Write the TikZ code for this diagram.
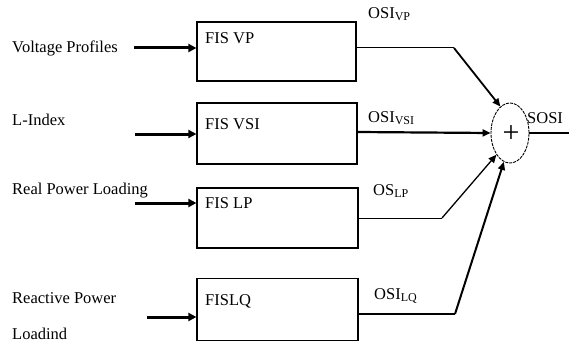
\documentclass[tikz,border=0pt]{standalone}
\usepackage{fontspec}
\setmainfont{Liberation Serif}
\usetikzlibrary{arrows.meta,shapes.geometric}
\begin{document}
\begin{tikzpicture}[x=1pt,y=-1pt,
  txt/.style={anchor=west,inner sep=0pt,font=\fontsize{16.5}{18}\selectfont},
  fisbox/.style={draw,line width=1.2pt,inner sep=0pt},
  inarr/.style={line width=3pt,-{Triangle[length=8pt,width=8pt]}},
  outarr/.style={-{Triangle[length=8pt,width=7pt]}}]
\useasboundingbox (0,0) rectangle (569,342);
% boxes
\node[fisbox,minimum width=159pt,minimum height=59pt] (b1) at (276.5,51.5) {};
\node[fisbox,minimum width=160pt,minimum height=61pt] (b2) at (277,133.5) {};
\node[fisbox,minimum width=161pt,minimum height=60pt] (b3) at (277.5,218) {};
\node[fisbox,minimum width=161pt,minimum height=62pt] (b4) at (277.5,309.5) {};
% box titles
\node[txt] (t1) at (205,38) {FIS VP};
\node[txt] (t2) at (205,124) {FIS VSI};
\node[txt] (t3) at (205,203) {FIS LP};
\node[txt] (t4) at (205,301) {FISLQ};
% input labels
\node[txt] (l1) at (12,48) {Voltage Profiles};
\node[txt] (l2) at (12,120) {L-Index};
\node[txt] (l3) at (12,191) {Real Power Loading};
\node[txt] (l4) at (12,298) {Reactive Power};
\node[txt] (l5) at (12,334) {Loadind};
% input arrows
\coordinate (i1) at (134,48);
\coordinate (i2) at (135,134);
\coordinate (i3) at (135,203);
\coordinate (i4) at (147,317);
\draw[inarr] (i1) -- (b1.west |- i1);
\draw[inarr] (i2) -- (b2.west |- i2);
\draw[inarr] (i3) -- (b3.west |- i3);
\draw[inarr] (i4) -- (b4.west |- i4);
% summing junction
\node[draw,ellipse,dash pattern=on 3pt off 1pt,line width=0.9pt,minimum width=38pt,minimum height=60pt,inner sep=0pt] (sum) at (510,133) {};
\node[inner sep=0pt,font=\fontsize{30}{30}\selectfont] (plus) at (511,134) {+};
\node[txt] (sosi) at (527,118) {SOSI};
\coordinate (o) at (569,133);
\draw[line width=1.6pt] (sum.east) -- (o);
% output connectors
\coordinate (k1) at (454,48);
\coordinate (k2) at (357,132);
\coordinate (k3) at (442,218);
\coordinate (k4) at (455,314);
\draw[line width=1pt] (b1.east |- k1) -- (k1);
\draw[outarr,line width=1.8pt] (k1) -- (sum.110);
\draw[outarr,line width=2.2pt] (b2.east |- k2) -- (sum.west);
\draw[line width=1pt] (b3.east |- k3) -- (k3);
\draw[outarr,line width=1.3pt] (k3) -- (sum.238);
\draw[line width=1.2pt] (b4.east |- k4) -- (k4);
\draw[outarr,line width=2pt] (k4) -- (sum.258);
% output labels
\node[txt] (o1) at (368,14) {OSI\raisebox{-2pt}{\fontsize{12}{12}\selectfont VP}};
\node[txt] (o2) at (368,118) {OSI\raisebox{-2pt}{\fontsize{12}{12}\selectfont VSI}};
\node[txt] (o3) at (373,191) {OS\raisebox{-2pt}{\fontsize{12}{12}\selectfont LP}};
\node[txt] (o4) at (374,296) {OSI\raisebox{-2pt}{\fontsize{12}{12}\selectfont LQ}};
\end{tikzpicture}
\end{document}
